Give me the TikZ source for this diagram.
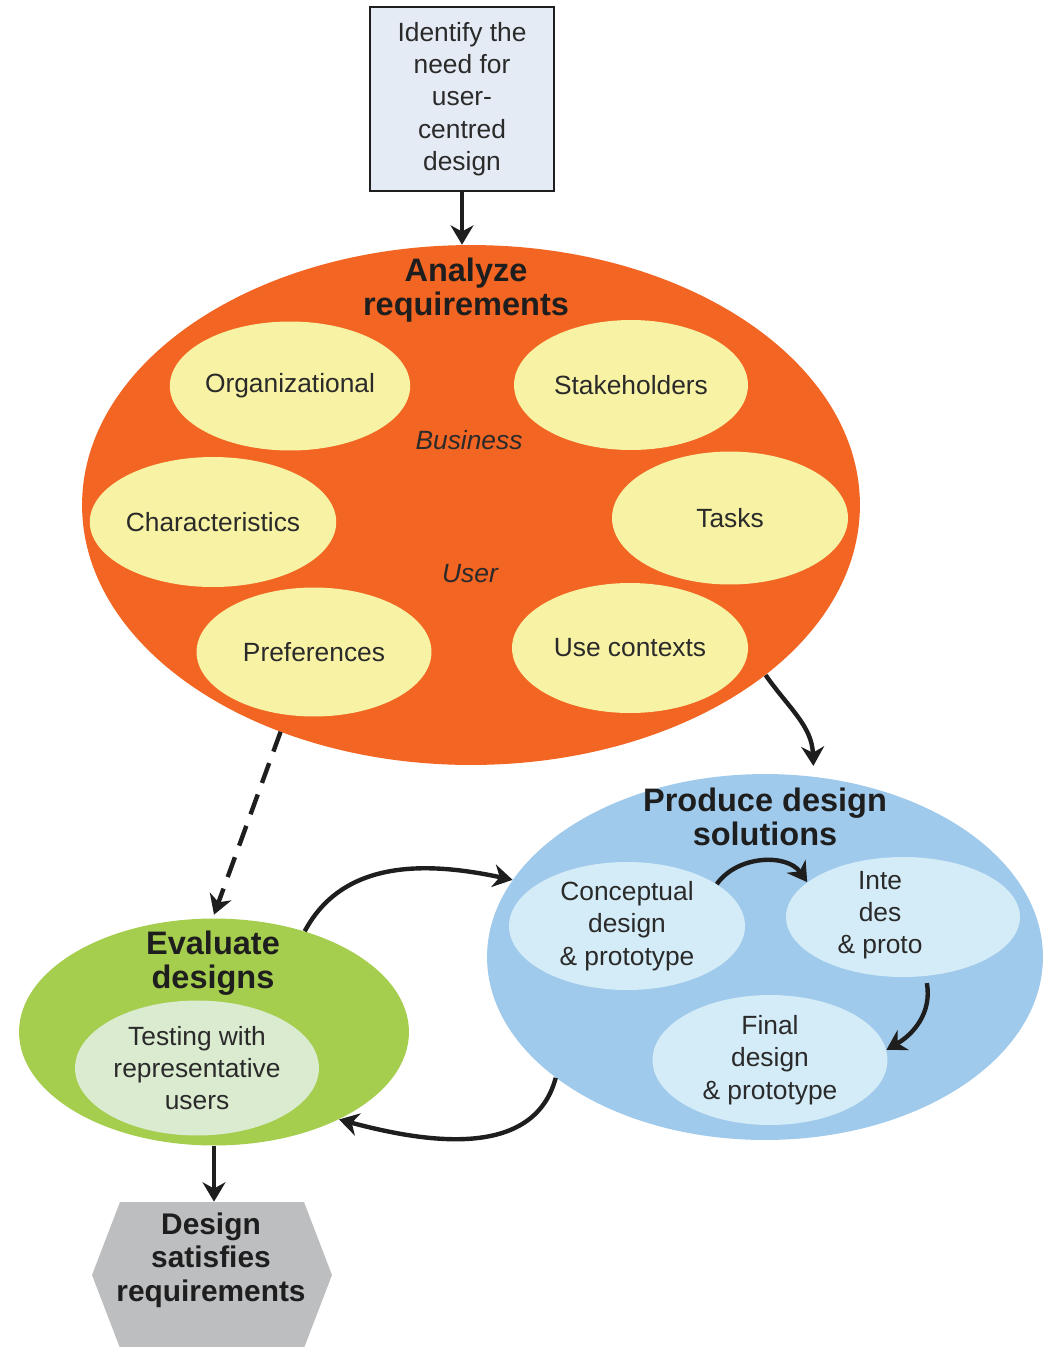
\documentclass[tikz,border=0pt]{standalone}
\usepackage{fontspec}
\setmainfont{Liberation Sans}
\usetikzlibrary{shapes.geometric,arrows.meta}
\definecolor{orng}{HTML}{F26522}
\definecolor{ylw}{HTML}{F8F2A4}
\definecolor{bluebig}{HTML}{A0CAEB}
\definecolor{bluein}{HTML}{D4ECF7}
\definecolor{grn}{HTML}{A5CD4E}
\definecolor{grnin}{HTML}{DAEBD0}
\definecolor{hexgray}{HTML}{BDBEC0}
\definecolor{boxfill}{HTML}{E5EBF4}
\definecolor{ink}{HTML}{1E1E1E}
\definecolor{txt}{HTML}{2A2A2A}
\begin{document}
\begin{tikzpicture}[x=0.02cm,y=-0.02cm,
  font=\fontsize{15}{18.4}\selectfont,
  arr/.style={line width=2.5pt, draw=ink, -{Stealth[length=11pt,width=13pt,inset=3.5pt]}},
  ttl/.style={font=\fontsize{18.5}{19}\selectfont\bfseries, align=center, text=ink, inner sep=0pt},
  sub/.style={ellipse, inner sep=0pt, align=center, text=txt},
  bigell/.style={ellipse, inner sep=0pt}]
\useasboundingbox (0,0) rectangle (1044,1347);

% top box
\node[draw=ink, line width=1.6pt, fill=boxfill, minimum width=3.68cm, minimum height=3.68cm,
      inner sep=0pt, align=center, text=txt] (need) at (462,99)
  {Identify the\\need for\\user-\\centred\\design};

% analyze requirements
\node[bigell, fill=orng, minimum width=15.56cm, minimum height=10.4cm] (analyze) at (471,505) {};
\node[ttl] (analyzeT) at (466,290) {Analyze\\requirements};
\node[sub, fill=ylw, minimum width=4.68cm, minimum height=2.58cm] (org) at (290,386) {Organizational};
\node[sub, fill=ylw, minimum width=4.68cm, minimum height=2.6cm] (stake) at (631,385) {Stakeholders};
\node[sub, fill=ylw, minimum width=4.68cm, minimum height=2.6cm] (char) at (213,522) {Characteristics};
\node[sub, fill=ylw, minimum width=4.72cm, minimum height=2.66cm] (tasks) at (730,518) {Tasks};
\node[sub, fill=ylw, minimum width=4.7cm, minimum height=2.58cm] (pref) at (314,652) {Preferences};
\node[sub, fill=ylw, minimum width=4.72cm, minimum height=2.6cm] (usec) at (630,648) {Use contexts};
\node[text=txt, font=\fontsize{15}{18.4}\selectfont\itshape] (business) at (469,440) {Business};
\node[text=txt, font=\fontsize{15}{18.4}\selectfont\itshape] (user) at (470,574) {User};

% produce design solutions
\node[bigell, fill=bluebig, minimum width=11.12cm, minimum height=7.32cm] (produce) at (765,957) {};
\node[ttl] (produceT) at (765,817) {Produce design\\solutions};
\node[sub, fill=bluein, minimum width=4.72cm, minimum height=2.56cm] (concept) at (627,926) {Conceptual\\design\\\& prototype};
\node[sub, fill=bluein, minimum width=4.68cm, minimum height=2.4cm] (integ) at (903,917) {};
\node[text=txt, align=center, inner sep=0pt] (integT) at (880,915) {Inte\\des\\\& proto};
\node[sub, fill=bluein, minimum width=4.7cm, minimum height=2.6cm] (final) at (770,1060) {Final\\design\\\& prototype};

% evaluate designs
\node[bigell, fill=grn, minimum width=7.8cm, minimum height=4.54cm] (evaluate) at (214,1032) {};
\node[ttl] (evaluateT) at (213,963) {Evaluate\\designs};
\node[sub, fill=grnin, minimum width=4.88cm, minimum height=2.7cm] (testing) at (197,1068) {Testing with\\representative\\users};

% end hexagon
\fill[hexgray] (92,1275) -- (120,1202) -- (304,1202) -- (332,1275) -- (304,1348) -- (120,1348) -- cycle;
\node[minimum width=4.8cm, minimum height=2.92cm, inner sep=0pt] (done) at (212,1275) {};
\node[font=\fontsize{17}{19}\selectfont\bfseries, align=center, text=ink, inner sep=0pt] (doneT) at (211,1260)
  {Design\\satisfies\\requirements};

% connectors
\draw[arr] (need.south) -- (need.south |- analyze.north);
\draw[arr] (analyze.-30) to[out=-55, in=92] ([yshift=6pt]produce.75);
\draw[arr, dash pattern=on 12pt off 7pt] ([shift={(0.1,-0.25)}]analyze.-130) -- ([yshift=2pt]evaluate.north);
\draw[arr] (evaluate.48) to[out=62, in=168] (produce.163);
\draw[arr] (produce.-150) to[out=-105, in=-15] ([shift={(0.1,-0.05)}]evaluate.-35);
\draw[arr] (concept.25) to[out=55, in=125] (integ.160);
\draw[arr] ([yshift=-4pt]integ.-68) to[out=-80, in=30] (final.5);
\draw[arr] (evaluate.south) -- (evaluate.south |- done.north);
\end{tikzpicture}
\end{document}
